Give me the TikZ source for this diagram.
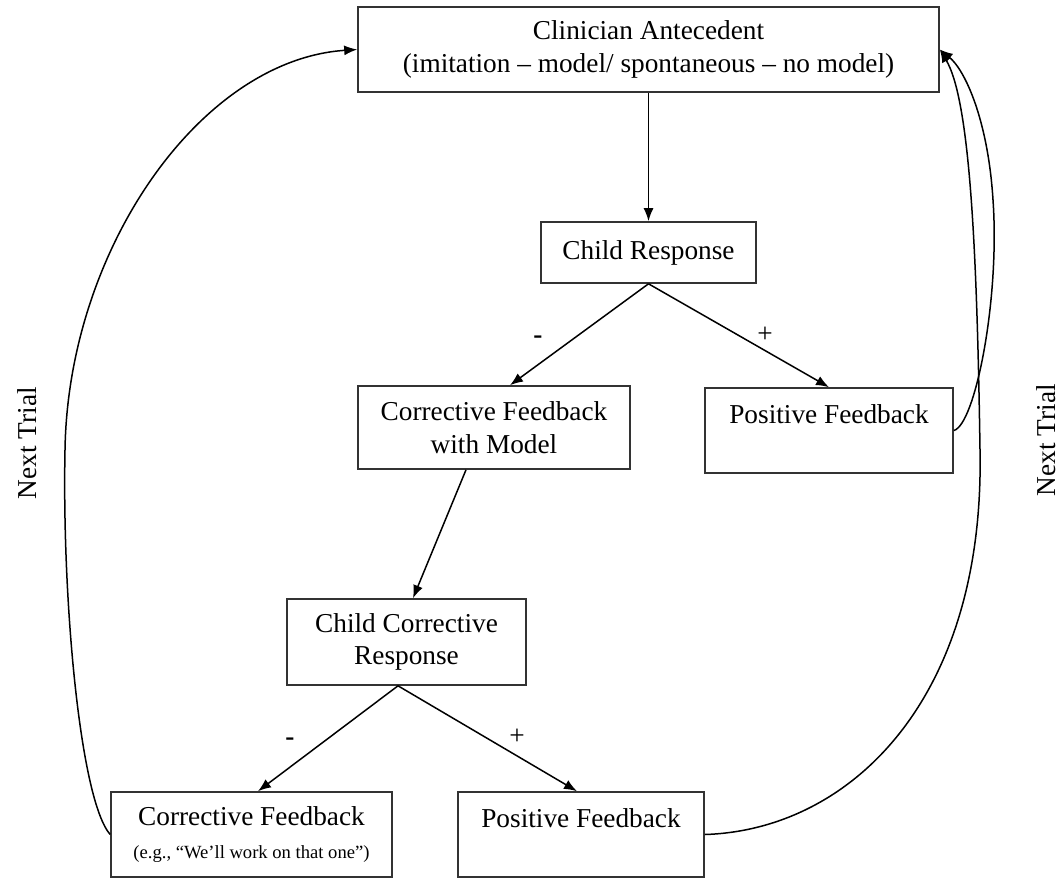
\documentclass[tikz,border=0pt]{standalone}
\usepackage{fontspec}
\setmainfont{Liberation Serif}
\usetikzlibrary{arrows.meta,calc}
\begin{document}
\begin{tikzpicture}[x=0.5pt,y=-0.5pt,
  box/.style={draw=black!80,line width=0.8pt,rectangle,inner sep=0pt,align=center,
    font=\fontsize{13.65}{16.4}\selectfont},
  conn/.style={line width=0.75pt,-{Latex[length=6.5pt,width=5pt]}},
  sign/.style={font=\fontsize{13.65}{16.4}\selectfont,inner sep=0pt},
  side/.style={rotate=90,font=\fontsize{13.65}{16.4}\selectfont,inner sep=0pt}]
\useasboundingbox (0,0) rectangle (1064,878);
\node[box,minimum width=290.5pt,minimum height=42.5pt] (ca) at (648.5,49.5)
  {Clinician Antecedent\\(imitation -- model/ spontaneous -- no model)};
\node[box,minimum width=107.5pt,minimum height=30.5pt] (cr) at (648.5,252.5) {Child Response};
\node[box,minimum width=136pt,minimum height=41.5pt] (cfm) at (494,427.5) {Corrective Feedback\\with Model};
\node[box,minimum width=124pt,minimum height=42.5pt] (pf1) at (829,430.5) {Positive Feedback\\\mbox{}};
\node[box,minimum width=119.5pt,minimum height=43pt] (ccr) at (406.5,642) {Child Corrective\\Response};
\node[box,minimum width=140.5pt,minimum height=42.5pt] (cf2) at (251.5,834.5)
  {Corrective Feedback\\{\fontsize{9.3}{11}\selectfont (e.g., ``We'll work on that one'')}};
\node[box,minimum width=123pt,minimum height=42.5pt] (pf2) at (581,834.5) {Positive Feedback\\\mbox{}};

\node[sign] (m1) at (538,340) {\textbf{-}};
\node[sign] (p1) at (765,335) {+};
\node[sign] (m2) at (290,742) {\textbf{-}};
\node[sign] (p2) at (517,737) {+};

\node[side] (nt1) at (27,443) {Next Trial};
\node[side] (nt2) at (1046,440) {Next Trial};

\draw[conn] (ca.south) -- (cr.north);
\draw[conn] (cr.south) -- ([xshift=8pt]cfm.north);
\draw[conn] (cr.south) -- (pf1.north);
\draw[conn] ([xshift=-14pt]cfm.south) -- ([xshift=3.25pt]ccr.north);
\draw[conn] ([xshift=-4.25pt]ccr.south) -- ([xshift=3.25pt]cf2.north);
\draw[conn] ([xshift=-4.25pt]ccr.south) -- ([xshift=-2pt]pf2.north);

\coordinate (l1) at (65,450);
\draw[conn] (cf2.west) .. controls (80,800) and (62,600) .. (l1)
  .. controls (68,250) and (200,60) .. (ca.west);
\coordinate (r1) at (993,200);
\draw[conn] (pf1.east) .. controls (975,425) and (1000,300) .. (r1)
  .. controls (988,120) and (965,70) .. (ca.east);
\coordinate (r2) at (980,450);
\draw[conn] (pf2.east) .. controls (850,830) and (985,700) .. (r2)
  .. controls (977,250) and (970,100) .. (ca.east);
\end{tikzpicture}
\end{document}
